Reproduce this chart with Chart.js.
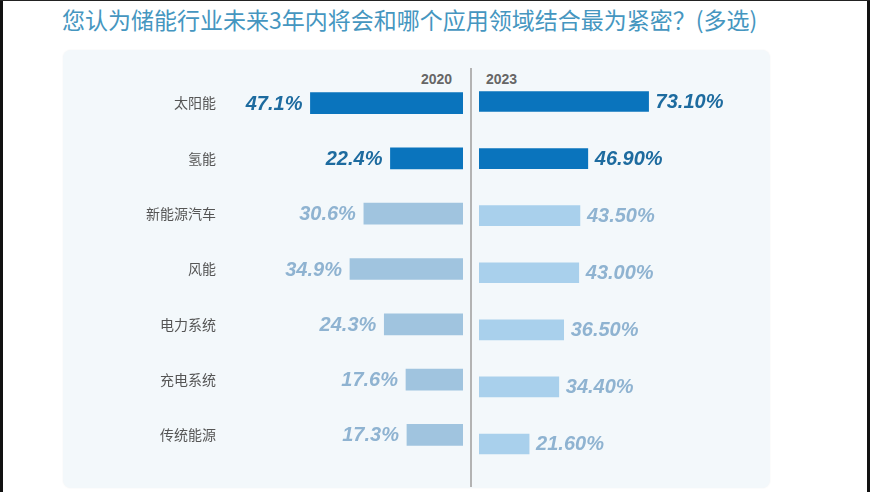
<!DOCTYPE html>
<html>
<head>
<meta charset="utf-8">
<script src="https://cdn.jsdelivr.net/npm/chart.js@4.4.0/dist/chart.umd.min.js"></script>
<style>
body{margin:0;background:#fff;}
#wrap{position:relative;width:870px;height:492px;overflow:hidden;font-family:"Noto Sans CJK SC",sans-serif;}
.abs{position:absolute;}
#title{left:62px;top:2px;font-size:23px;color:#4596c0;white-space:nowrap;letter-spacing:0px;}
#panel{left:63px;top:50px;width:707px;height:438px;background:#f3f8fb;border-radius:8px;box-shadow:0 0 2px rgba(0,0,0,0.06);}
#divider{left:470px;top:68px;width:2px;height:419px;background:#b3b3b3;}
.year{top:71px;font:bold 14px "Liberation Sans",Arial,sans-serif;color:#666;}
</style>
</head>
<body>
<div id="wrap">
  <div class="abs" style="left:0;top:0;width:3px;height:492px;background:#111"></div>
  <div class="abs" style="right:0;top:0;width:3px;height:492px;background:#111"></div>
  <div class="abs" style="left:0;top:0;width:870px;height:1px;background:#222"></div>
  <div id="title" class="abs">您认为储能行业未来3年内将会和哪个应用领域结合最为紧密？(多选)</div>
  <div id="panel" class="abs"></div>
  <div id="divider" class="abs"></div>
  <div class="abs year" style="left:421px">2020</div>
  <div class="abs year" style="left:486px">2023</div>
  <canvas id="left" class="abs" width="400" height="438" style="left:63px;top:50px"></canvas>
  <canvas id="right" class="abs" width="299" height="438" style="left:471px;top:50px"></canvas>
</div>
<script>
const categories = ["太阳能", "氢能", "新能源汽车", "风能", "电力系统", "充电系统", "传统能源"];
const share2020 = [47.1, 22.4, 30.6, 34.9, 24.3, 17.6, 17.3];
const share2023 = [73.1, 46.9, 43.5, 43.0, 36.5, 34.4, 21.6];

const DARK = "#0a74bd";
const LIGHT_L = "#a0c4df";
const LIGHT_R = "#a9d0ec";

function valueLabels(side, digits) {
  return {
    id: "valueLabels",
    afterDatasetsDraw(chart) {
      const ctx = chart.ctx;
      const vals = chart.data.datasets[0].data;
      chart.getDatasetMeta(0).data.forEach((bar, i) => {
        ctx.save();
        ctx.font = 'italic bold 20px "Liberation Sans", Arial, sans-serif';
        ctx.fillStyle = i < 2 ? "#1d6b9f" : "#8fb3d1";
        ctx.textBaseline = "middle";
        const txt = vals[i].toFixed(digits) + "%";
        if (side === "left") {
          ctx.textAlign = "right";
          ctx.fillText(txt, bar.x - 8, bar.y + 1);
        } else {
          ctx.textAlign = "left";
          ctx.fillText(txt, bar.x + 7, bar.y + 1);
        }
        ctx.restore();
      });
    }
  };
}

new Chart(document.getElementById("left"), {
  type: "bar",
  data: {
    labels: categories,
    datasets: [{
      label: "2020",
      data: share2020,
      backgroundColor: c => c.dataIndex < 2 ? DARK : LIGHT_L,
      barThickness: 21
    }]
  },
  options: {
    indexAxis: "y",
    responsive: false,
    animation: false,
    devicePixelRatio: 1,
    layout: { padding: { top: 23, bottom: 15.5, left: 0, right: 0 } },
    plugins: { legend: { display: false }, tooltip: { enabled: false } },
    scales: {
      x: { reverse: true, min: 0, max: 71, display: false },
      y: {
        grid: { display: false, drawTicks: false },
        border: { display: false },
        ticks: { padding: 17, color: "#555", font: { size: 14, family: '"Noto Sans CJK SC", sans-serif' } },
        afterFit: s => { s.width = 170; }
      }
    }
  },
  plugins: [valueLabels("left", 1)]
});

new Chart(document.getElementById("right"), {
  type: "bar",
  data: {
    labels: categories,
    datasets: [{
      label: "2023",
      data: share2023,
      backgroundColor: c => c.dataIndex < 2 ? DARK : LIGHT_R,
      barThickness: 20
    }]
  },
  options: {
    indexAxis: "y",
    responsive: false,
    animation: false,
    devicePixelRatio: 1,
    layout: { padding: { top: 23, bottom: 15.5, left: 8, right: 59 } },
    plugins: { legend: { display: false }, tooltip: { enabled: false } },
    scales: {
      x: { min: 0, max: 100, display: false },
      y: { display: false }
    }
  },
  plugins: [valueLabels("right", 2)]
});
</script>
</body>
</html>
